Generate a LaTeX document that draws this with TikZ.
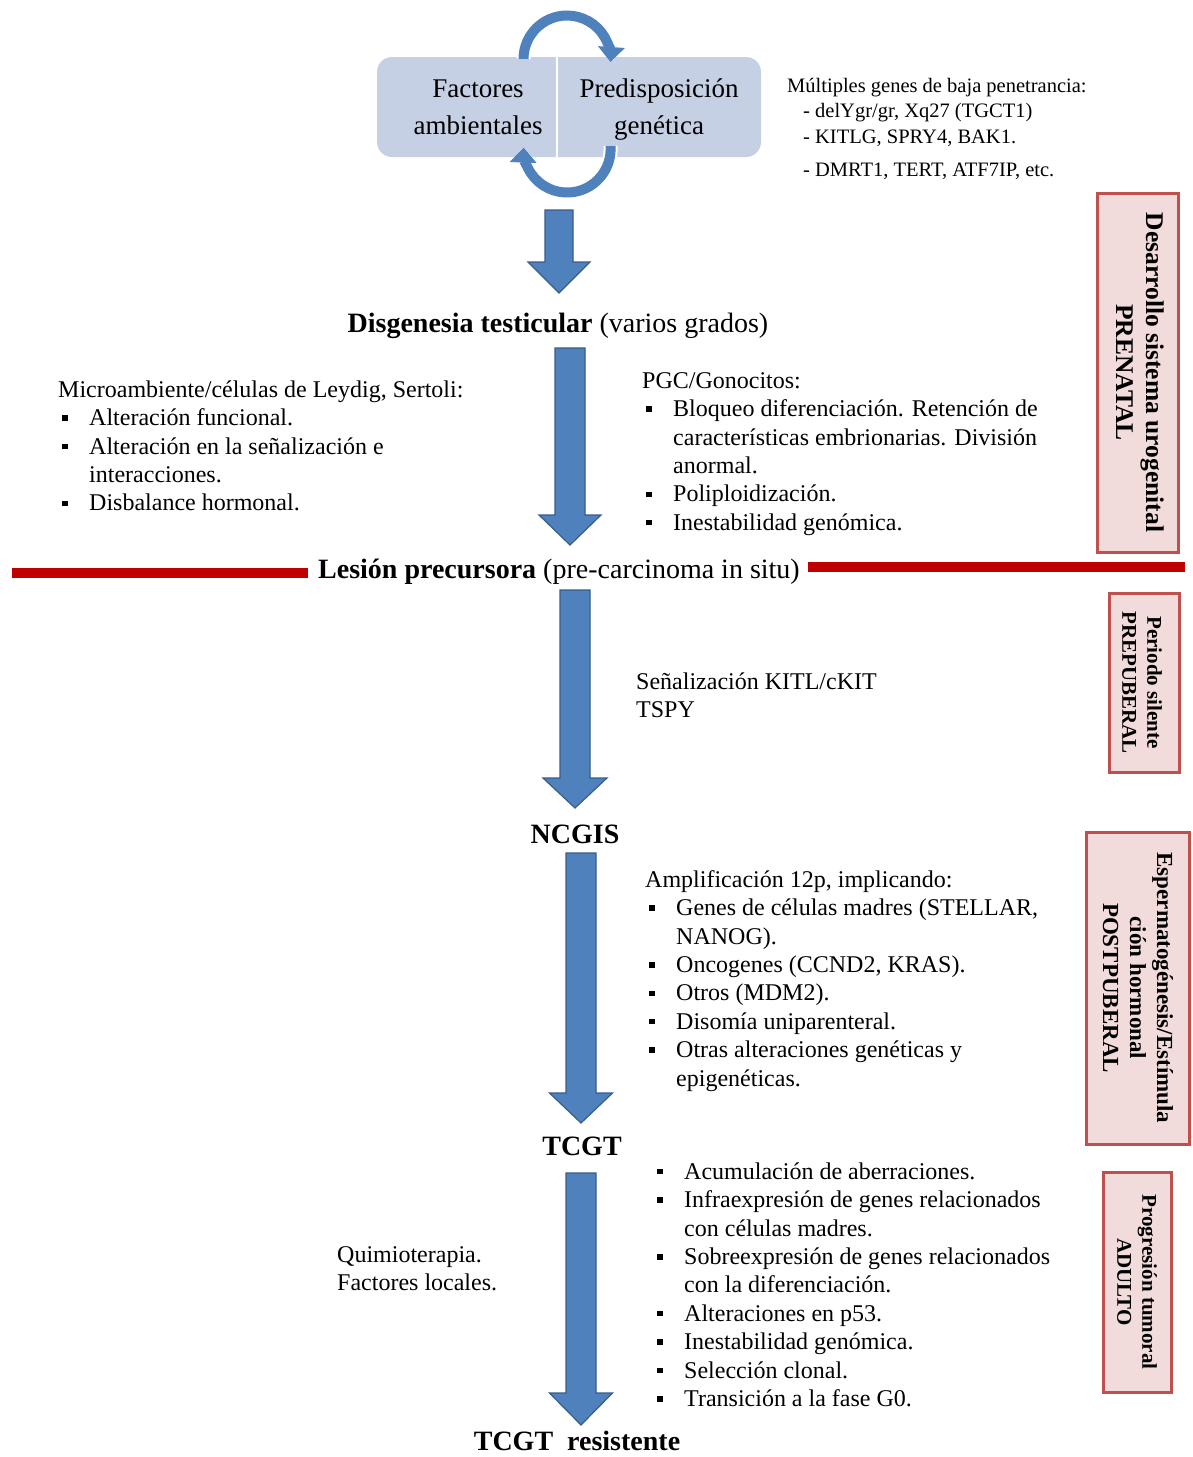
\documentclass[tikz,border=0pt]{standalone}
\usepackage{fontspec}
\setmainfont{Liberation Serif}
\usetikzlibrary{arrows.meta}
\definecolor{boxblue}{RGB}{198,208,228}
\definecolor{arrblue}{RGB}{79,129,189}
\definecolor{arrline}{RGB}{56,93,138}
\definecolor{redline}{RGB}{192,0,0}
\definecolor{pinkfill}{RGB}{242,220,219}
\definecolor{pinkline}{RGB}{192,80,77}
\newcommand\bsq{\hspace*{4pt}\makebox[27pt][l]{\rule[0.2em]{5.5pt}{5.5pt}}}
\newcommand\bcont{\hspace*{31pt}}
\newcommand\barrow[6]{\draw[blockarrow] (#1-#5,#2) -- (#1+#5,#2) -- (#1+#5,#3) -- (#1+#6,#3) -- (#1,#4) -- (#1-#6,#3) -- (#1-#5,#3) -- cycle;}
\begin{document}
\begin{tikzpicture}[x=1pt,y=-1pt,
  body/.style={font=\fontsize{24}{28.4}\selectfont, align=left, anchor=north west, inner sep=0pt},
  head/.style={font=\fontsize{28}{33}\selectfont, anchor=base, inner sep=0pt},
  sidebox/.style={draw=pinkline, fill=pinkfill, line width=3pt, inner sep=0pt},
  sidetext/.style={rotate=-90, align=center, inner sep=0pt},
  blockarrow/.style={fill=arrblue, draw=arrline, line width=1.2pt},
  cyc/.style={arrblue, line width=10pt, -{Triangle[width=26pt,length=15pt]}},
  cycw/.style={white, line width=14pt, -{Triangle[width=32pt,length=18pt]}},
]
\path[use as bounding box, fill=white] (0,0) rectangle (1192,1457);

% top box
\node[fill=boxblue, rounded corners=15pt, minimum width=384pt, minimum height=100pt, inner sep=0pt] (topbox) at (569,107) {};
\draw[white, line width=2pt] (556.5,57) -- (556.5,157);
\draw[cycw] (523.5,59) arc[start angle=180, end angle=364, radius=43.5];
\draw[cyc] (523.5,59) arc[start angle=180, end angle=364, radius=43.5];
\draw[cycw] (610.5,146) arc[start angle=-4, end angle=182, radius=43.5];
\draw[cyc] (610.5,146) arc[start angle=-4, end angle=182, radius=43.5];
\node[font=\fontsize{27}{37}\selectfont, align=center, anchor=north, inner sep=0pt] (fac) at (478,75) {\rule{0pt}{22pt}Factores\\ambientales};
\node[font=\fontsize{27}{37}\selectfont, align=center, anchor=north, inner sep=0pt] (pre) at (659,75) {\rule{0pt}{22pt}Predisposición\\genética};

% top right text
\node[body, font=\fontsize{20.5}{25.5}\selectfont] (mult) at (787,76) {\rule{0pt}{16pt}Múltiples genes de baja penetrancia:\\
\hspace*{16pt}- delYgr/gr, Xq27 (TGCT1)\\
\hspace*{16pt}- KITLG, SPRY4, BAK1.\\[8pt]
\hspace*{16pt}- DMRT1, TERT, ATF7IP, etc.};

% arrows
\barrow{559}{210}{262}{293}{14}{31}
\barrow{570}{348}{515}{545}{15}{31}
\barrow{575}{590}{778}{808}{15}{32}
\barrow{581}{853}{1093}{1123}{15}{31.5}
\barrow{581}{1173}{1393}{1425}{15}{31.5}

% headings
\node[head] (dis) at (558,332) {\textbf{Disgenesia testicular} (varios grados)};
\node[head] (les) at (559,578) {\textbf{Lesión precursora} (pre-carcinoma in situ)};
\node[head] (ncgis) at (575,843) {\textbf{NCGIS}};
\node[head] (tcgt) at (582,1155) {\textbf{TCGT}};
\node[head] (tcgtr) at (577,1450) {\textbf{TCGT\ \ resistente}};

% red lines
\fill[redline] (12,568) rectangle (308,578);
\fill[redline] (808,562) rectangle (1185,572);

% body texts
\node[body] (micro) at (58,379) {\rule{0pt}{18pt}Microambiente/células de Leydig, Sertoli:\\
\bsq Alteración funcional.\\
\bsq Alteración en la señalización e\\
\bcont interacciones.\\
\bsq Disbalance hormonal.};

\node[body] (pgc) at (642,370) {\rule{0pt}{18pt}PGC/Gonocitos:\\
\bsq Bloqueo diferenciación. Retención de\\
\bcont características embrionarias. División\\
\bcont anormal.\\
\bsq Poliploidización.\\
\bsq Inestabilidad genómica.};

\node[body] (senal) at (636,671) {\rule{0pt}{18pt}Señalización KITL/cKIT\\TSPY};

\node[body] (ampl) at (645,869) {\rule{0pt}{18pt}Amplificación 12p, implicando:\\
\bsq Genes de células madres (STELLAR,\\
\bcont NANOG).\\
\bsq Oncogenes (CCND2, KRAS).\\
\bsq Otros (MDM2).\\
\bsq Disomía uniparenteral.\\
\bsq Otras alteraciones genéticas y\\
\bcont epigenéticas.};

\node[body] (quimio) at (337,1244) {\rule{0pt}{18pt}Quimioterapia.\\Factores locales.};

\node[body] (prog) at (653,1161) {\rule{0pt}{18pt}\bsq Acumulación de aberraciones.\\
\bsq Infraexpresión de genes relacionados\\
\bcont con células madres.\\
\bsq Sobreexpresión de genes relacionados\\
\bcont con la diferenciación.\\
\bsq Alteraciones en p53.\\
\bsq Inestabilidad genómica.\\
\bsq Selección clonal.\\
\bsq Transición a la fase G0.};

% side boxes
\node[sidebox, minimum width=81pt, minimum height=359pt] (b1) at (1137.5,372.5) {};
\node[sidetext, font=\bfseries\fontsize{25.5}{30}\selectfont] (b1t) at (1140,372.5) {Desarrollo sistema urogenital\\PRENATAL};
\node[sidebox, minimum width=70pt, minimum height=179pt] (b2) at (1144,682.5) {};
\node[sidetext, font=\bfseries\fontsize{21}{25}\selectfont] (b2t) at (1142,682.5) {Periodo silente\\PREPUBERAL};
\node[sidebox, minimum width=103pt, minimum height=312pt] (b3) at (1137.5,988) {};
\node[sidetext, font=\bfseries\fontsize{23}{27}\selectfont] (b3t) at (1138,988) {Espermatogénesis/Estímula\\ción hormonal\\POSTPUBERAL};
\node[sidebox, minimum width=68pt, minimum height=220pt] (b4) at (1137,1282) {};
\node[sidetext, font=\bfseries\fontsize{21}{25}\selectfont] (b4t) at (1137,1282) {Progresión tumoral\\ADULTO};
\end{tikzpicture}
\end{document}
